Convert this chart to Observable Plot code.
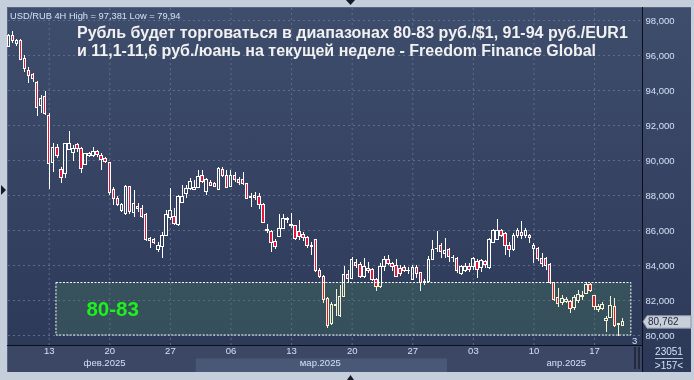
<!DOCTYPE html>
<html><head><meta charset="utf-8">
<script src="https://cdn.jsdelivr.net/npm/d3@7"></script>
<script src="https://cdn.jsdelivr.net/npm/@observablehq/plot@0.6"></script>
<style>
html,body{margin:0;padding:0;background:#c5cedb;}
#wrap{position:relative;width:694px;height:380px;overflow:hidden;background:#c5cedb;}
#panel{position:absolute;left:7px;top:7px;width:684px;height:365px;background:linear-gradient(#3f4d6c,#2c3857);border-left:1px solid #5a6680;border-top:1px solid #5a6680;box-sizing:border-box;}
#chart{position:absolute;left:0;top:0;}
</style></head><body><div id="wrap"><div id="panel"></div><div id="chart"></div></div>
<script>
// ---- data (USD/RUB 4H candles) ----
const opens  = [96.51,97.14,96.65,96.82,95.81,95.14,94.86,94.44,93.09,93.62,92.55,89.85,90.72,89.43,89.24,90.6,90.44,90.86,90.67,89.75,90.27,90.25,90.48,90.25,90.06,89.87,88.29,87.81,87.09,86.95,88.48,86.99,87.37,87.24,86.9,85.4,85.43,84.86,85.05,85.71,86.72,86.76,86.34,87.56,88.06,88.38,88.32,88.42,89.09,88.19,88.71,88.63,88.34,89.43,89.14,88.48,89.14,88.9,88.86,88.67,87.85,88.0,87.94,87.43,86.05,85.94,85.33,85.62,86.1,86.6,86.34,86.23,85.9,85.75,85.58,85.1,85.43,83.68,83.37,82.1,80.63,81.7,81.1,82.22,83.43,83.24,84.15,84.04,83.33,83.81,83.77,83.18,82.76,83.9,84.34,84.1,84.0,83.81,83.87,83.66,83.2,83.87,83.58,83.0,83.05,84.32,84.92,85.14,84.67,84.86,84.45,84.38,83.49,83.71,83.9,83.94,84.19,83.87,84.19,83.87,85.28,85.47,85.96,85.81,85.14,84.86,85.66,85.85,85.66,85.66,84.95,84.95,84.38,84.38,84.04,82.99,82.15,81.85,81.9,81.9,81.58,82.0,82.25,82.38,82.86,82.23,81.43,81.52,80.82,81.0,81.62,80.6,80.57];
const highs  = [97.2,97.38,96.9,96.9,96.0,95.3,95.0,94.5,93.71,93.95,92.67,91.0,90.91,89.62,91.0,91.66,90.86,90.95,90.76,90.42,90.46,90.72,90.6,90.38,90.19,89.9,88.48,87.94,87.52,88.57,88.52,88.29,87.52,87.43,86.95,85.62,85.52,85.3,85.9,87.14,88.38,87.24,88.0,88.57,88.57,88.95,88.86,89.43,89.43,88.95,88.86,88.76,89.62,89.62,89.43,89.43,89.33,89.05,89.33,88.7,88.1,88.15,88.13,87.52,86.34,86.0,85.47,86.9,86.9,86.76,87.0,86.29,86.57,85.9,85.66,85.33,85.47,83.81,83.43,82.19,81.9,82.61,82.86,83.94,83.71,84.43,84.34,84.19,84.38,84.19,83.81,83.24,84.13,84.52,84.57,84.19,84.34,84.0,84.0,83.87,84.0,84.0,83.62,83.2,84.5,85.43,85.96,85.24,85.52,85.0,84.57,84.44,84.0,84.1,84.1,84.48,84.32,84.32,84.29,85.52,86.04,86.61,86.04,85.9,85.33,85.81,86.1,86.53,86.1,85.77,85.24,85.05,84.67,84.44,84.1,83.05,82.67,82.29,82.19,82.0,82.29,82.57,82.53,83.05,82.99,82.29,81.77,81.9,81.09,82.23,82.1,80.7,80.95];
const lows   = [96.45,96.67,96.5,95.7,95.05,94.4,94.45,92.51,92.7,92.6,88.33,89.33,90.1,88.7,89.0,90.55,89.96,90.48,89.24,89.7,90.2,90.19,90.19,89.43,89.85,88.0,87.43,87.37,87.05,86.86,86.9,86.72,87.05,86.67,85.39,84.95,85.2,84.75,84.4,85.66,86.57,86.29,86.23,87.52,87.81,88.29,88.29,88.38,88.67,88.0,88.52,88.44,88.32,89.05,88.38,88.44,88.76,88.57,88.6,87.75,87.3,87.7,87.18,86.42,85.81,84.76,84.9,85.58,86.04,86.38,86.1,85.43,85.43,85.39,85.0,84.57,83.62,83.24,81.81,80.42,80.57,81.1,81.05,82.15,83.0,83.18,83.81,83.24,83.28,83.52,83.1,82.53,82.7,83.68,84.0,83.68,83.3,83.37,83.62,83.49,83.14,83.24,82.53,82.86,82.95,84.28,84.76,84.38,84.38,84.19,84.19,83.56,83.43,83.62,83.62,83.71,83.24,83.62,83.81,83.75,85.24,85.43,85.62,84.57,84.48,84.82,85.52,85.47,85.52,85.24,84.1,84.24,83.9,83.71,82.91,81.96,81.62,81.71,81.81,81.24,81.43,81.81,82.0,82.34,82.48,81.43,81.33,81.43,80.19,80.95,80.48,79.94,80.5];
const closes = [97.09,96.82,96.82,95.75,95.24,94.84,94.67,93.01,93.53,92.67,89.81,90.72,90.23,89.01,90.95,90.95,90.67,90.67,89.52,90.38,90.38,90.48,90.3,90.04,89.9,88.13,87.81,87.47,87.43,88.48,87.05,87.52,87.24,86.76,85.43,85.52,85.28,85.14,85.71,86.86,87.09,86.38,87.94,87.94,88.38,88.8,88.42,89.05,88.76,88.86,88.57,88.48,89.52,89.14,88.44,89.14,88.86,88.72,88.67,87.81,87.9,87.87,87.43,86.44,86.0,85.29,85.05,86.06,86.67,86.65,86.23,85.52,85.62,85.58,85.09,85.08,83.68,83.33,82.04,80.53,81.77,81.77,82.22,83.43,83.24,84.34,84.0,83.33,83.9,83.68,83.18,82.8,83.9,84.29,84.06,83.94,83.37,83.49,83.71,83.7,83.87,83.52,83.0,83.05,84.34,84.9,84.97,84.76,84.82,84.48,84.42,83.68,83.9,83.94,83.75,84.38,83.75,84.25,84.04,85.47,85.96,85.96,85.71,85.14,84.86,85.66,86.0,85.66,86.0,85.55,85.14,84.38,84.1,84.0,82.99,82.04,81.81,82.1,82.05,81.52,82.15,82.29,82.22,82.86,82.57,81.62,81.62,81.77,80.95,81.66,80.57,80.64,80.762];

const yTicks = [80,82,84,86,88,90,92,94,96,98];
const dayTickIdx = [10,25,40,55,70,85,100,115,130,145];
const dayLabels = ["13","20","27","06","13","20","27","03","10","17"];
const monthLabels = ["фев.2025","мар.2025","апр.2025"];
const monthLabelIdx = [23.7,77.1,138];
const monthStart = [-0.5,46.4,108.6];
const monthEnd = [46.4,108.6,157];
const zoneLow = 80, zoneHigh = 83, zoneStart = 11.8, zoneEnd = 154.1, zoneText = "80-83", zoneTextIdx = 25.7;
const lastPrice = 80.762;
const headerText = "USD/RUB 4H High = 97,381 Low = 79,94";
const titleLines = ["Рубль будет торговаться в диапазонах 80-83 руб./$1, 91-94 руб./EUR1","и 11,1-11,6 руб./юань на текущей неделе - Freedom Finance Global"];

const candles = opens.map((o,i)=>({i, o, h: highs[i], l: lows[i], c: closes[i]}));
const zone = [{x1: zoneStart, x2: zoneEnd, y1: zoneLow, y2: zoneHigh}];
const tickMap = new Map(dayTickIdx.map((d,k)=>[d, dayLabels[k]]));
const months = monthLabels.map((m,k)=>({m, x: monthLabelIdx[k], s: monthStart[k], e: monthEnd[k]}));

const RED = "#e3163c", GRID = "#5e6d8c", FONT = "'Liberation Sans', Arial, sans-serif";
const hw = 0.31;

const plot = Plot.plot({
  width: 694, height: 380,
  marginLeft: 8, marginRight: 52, marginTop: 8, marginBottom: 35,
  style: {background: "transparent", color: "#d2e1f7", fontFamily: FONT, fontSize: "9.5px", overflow: "visible"},
  x: {domain: [-0.07, 156.86]},
  y: {domain: [79.43, 98.686]},
  marks: [
    Plot.ruleY(yTicks, {stroke: GRID, strokeDasharray: "2,3"}),
    Plot.ruleX(dayTickIdx, {stroke: GRID, strokeDasharray: "2,3"}),
    Plot.rect(zone, {x1: "x1", x2: "x2", y1: "y1", y2: "y2", fill: "#478295", fillOpacity: 0.36}),
    Plot.ruleX(candles, {x: "i", y1: d => Math.max(d.o, d.c), y2: "h", stroke: "white", strokeWidth: 1, shapeRendering: "crispEdges"}),
    Plot.ruleX(candles, {x: "i", y1: "l", y2: d => Math.min(d.o, d.c), stroke: "white", strokeWidth: 1, shapeRendering: "crispEdges"}),
    Plot.rect(candles.filter(d => d.c < d.o), {x1: d => d.i - hw, x2: d => d.i + hw, y1: "o", y2: "c", fill: RED, stroke: "white", strokeWidth: 1, shapeRendering: "crispEdges"}),
    Plot.rect(candles.filter(d => d.c >= d.o), {x1: d => d.i - hw, x2: d => d.i + hw, y1: "o", y2: "c", fill: "none", stroke: "white", strokeWidth: 1, shapeRendering: "crispEdges"}),
    Plot.rect(zone, {x1: "x1", x2: "x2", y1: "y1", y2: "y2", fill: "#f6f3d2", mixBlendMode: "multiply"}),
    Plot.rect(zone, {x1: "x1", x2: "x2", y1: "y1", y2: "y2", fill: "none", stroke: "white", strokeDasharray: "2,1.5"}),
    Plot.text([zoneText], {x: zoneTextIdx, y: (zoneLow + zoneHigh) / 2, text: d => d, fill: "#1ef01e", fontSize: 20.5, fontWeight: "bold", textAnchor: "middle"}),
    Plot.axisY({anchor: "right", ticks: yTicks, tickSize: 0, tickPadding: 3, tickFormat: d => d.toFixed(3).replace(".", ",")}),
    Plot.axisX({ticks: dayTickIdx, tickSize: 0, tickPadding: 2, tickFormat: d => tickMap.get(d)}),
    Plot.text(months, {x: "x", text: "m", frameAnchor: "bottom", dy: 20.8, fill: "#d2e1f7"})
  ]
});
document.getElementById("chart").appendChild(plot);

const svg = d3.select(plot);
const xs = plot.scale("x"), ys = plot.scale("y");
// bottom axis strip + March band (behind everything)
const bg = svg.insert("g", ":first-child");
bg.append("rect").attr("x", 8).attr("y", 345).attr("width", 634).attr("height", 27).attr("fill", "#3b4765");
const mar = months[1];
bg.append("rect").attr("x", xs.apply(mar.s)).attr("y", 358.5).attr("width", xs.apply(mar.e) - xs.apply(mar.s)).attr("height", 13.5).attr("fill", "#4a5877");

const fg = svg.append("g").attr("text-anchor", "start");
fg.append("line").attr("x1", 7).attr("x2", 642).attr("y1", 345.5).attr("y2", 345.5).attr("stroke", "#0c0f18");
fg.append("line").attr("x1", 642.5).attr("x2", 642.5).attr("y1", 7).attr("y2", 372).attr("stroke", "#0c0f18");
fg.append("rect").attr("x", 634).attr("y", 347).attr("width", 2).attr("height", 22).attr("fill", "#222b3e");
fg.append("rect").attr("x", 638).attr("y", 347).attr("width", 2).attr("height", 22).attr("fill", "#222b3e");

const addText = (x, y, t, opts = {}) => fg.append("text").attr("x", x).attr("y", y)
  .attr("text-anchor", opts.anchor || "start").attr("fill", opts.fill || "#d2e1f7")
  .attr("font-family", FONT).attr("font-size", opts.size || 9.5).attr("font-weight", opts.weight || "normal").text(t);

// header + title
addText(10, 18.5, headerText, {size: 9.3});
titleLines.forEach((t, k) => addText(77, 38 + k * 18.3, t, {fill: "#f1f1f1", weight: "bold", size: 16}));

// price tag
const py = ys.apply(lastPrice);
fg.append("path").attr("d", `M643,${py} L647,${py-6} L691,${py-6} L691,${py+6.5} L647,${py+6.5} Z`).attr("fill", "#c9cfd9").attr("stroke", "#8c96a8");
addText(648, py + 3.5, lastPrice.toFixed(3).replace(".", ","), {fill: "#1b2540", size: 10});

// "3" marker
addText(632, 344, "3");

// bottom-right info box
addText(669, 355, "23051", {anchor: "middle", size: 10});
fg.append("line").attr("x1", 655).attr("x2", 683).attr("y1", 358.5).attr("y2", 358.5).attr("stroke", "#b8c6dc");
addText(669, 369, ">157<", {anchor: "middle", size: 10});

// edge triangles
fg.append("path").attr("d", "M1,185 L6,190 L1,195 Z").attr("fill", "#151a26");
fg.append("path").attr("d", "M346,0 L355,0 L350.5,5 Z").attr("fill", "#151a26");
fg.append("path").attr("d", "M347,380 L354,380 L350.5,375 Z").attr("fill", "#151a26");
</script></body></html>
